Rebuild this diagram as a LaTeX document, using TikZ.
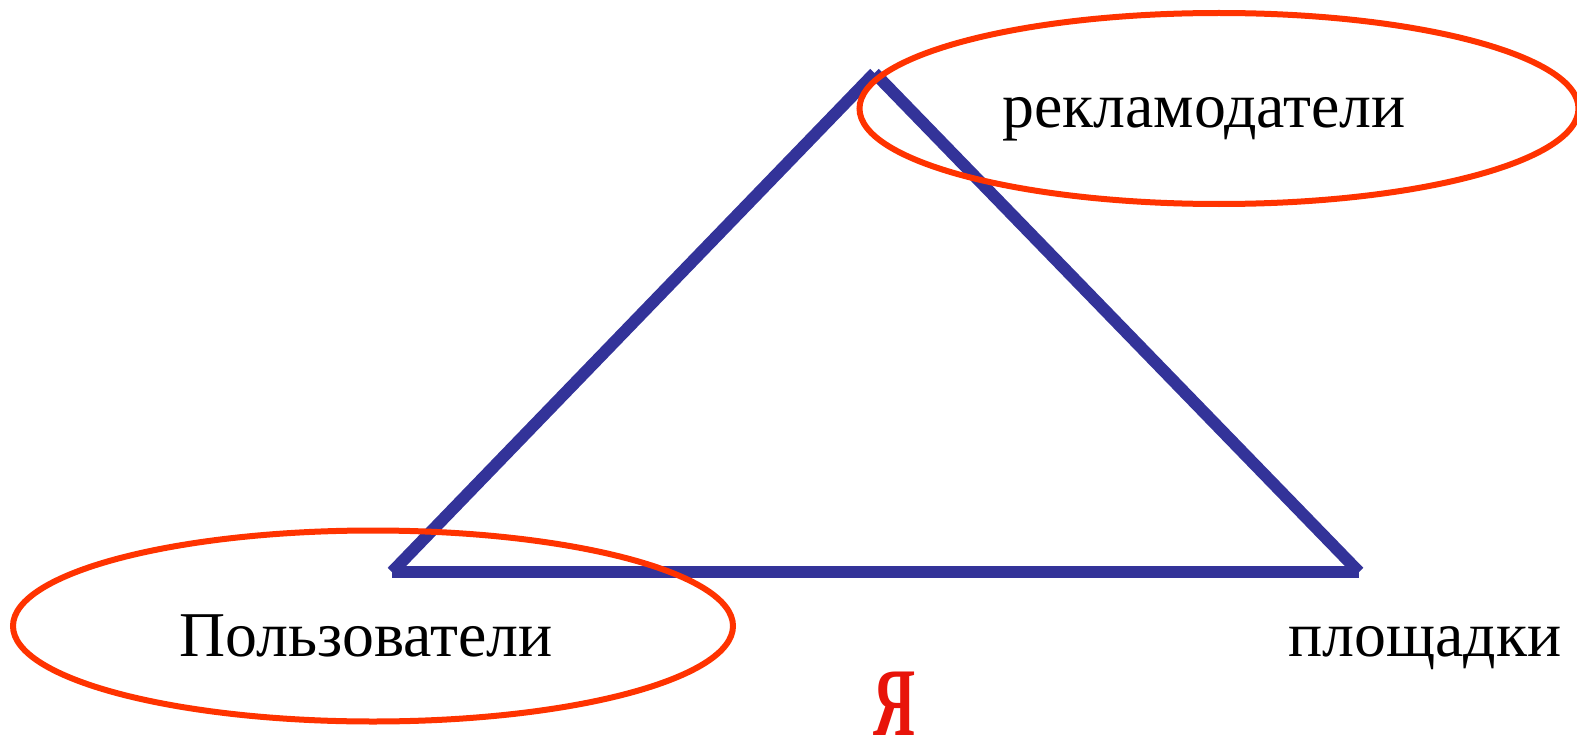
\documentclass[tikz,border=0pt]{standalone}
\usepackage{fontspec}
\setmainfont{Liberation Serif}
\usetikzlibrary{shapes.geometric}
\definecolor{triblue}{HTML}{333399}
\definecolor{ovalred}{HTML}{FF3300}
\definecolor{yared}{HTML}{E8140A}
\tikzset{
  oval/.style={ellipse,draw=ovalred,line width=6pt,inner sep=0pt,fill=none},
  side/.style={draw=triblue,line width=12pt,line cap=butt},
  lbl/.style={inner sep=0pt,anchor=base,font=\fontsize{63.8}{64}\selectfont,text=black}
}
\begin{document}
\begin{tikzpicture}[x=1pt,y=-1pt]
\useasboundingbox (0,0) rectangle (1577,741);
\coordinate (A) at (874.5,73);
\coordinate (B) at (392,572);
\coordinate (C) at (1359,572);
\draw[side] (A) -- (B);
\draw[side] (A) -- (C);
\draw[side] (B) -- (C);
\node[oval,minimum width=719pt,minimum height=191pt] (ovtop) at (1219,108.5) {};
\node[oval,minimum width=720pt,minimum height=191pt] (ovbot) at (373,626) {};
\node[lbl] (rek) at (1204,128) {рекламодатели};
\node[lbl] (pol) at (366,656) {Пользователи};
\node[lbl] (plo) at (1425,656) {площадки};
\node[inner sep=0pt,anchor=base,text=yared] (ya) at (894.5,735) {\scalebox{0.6}[1]{\fontsize{97}{97}\selectfont\bfseries Я}};
\end{tikzpicture}
\end{document}
